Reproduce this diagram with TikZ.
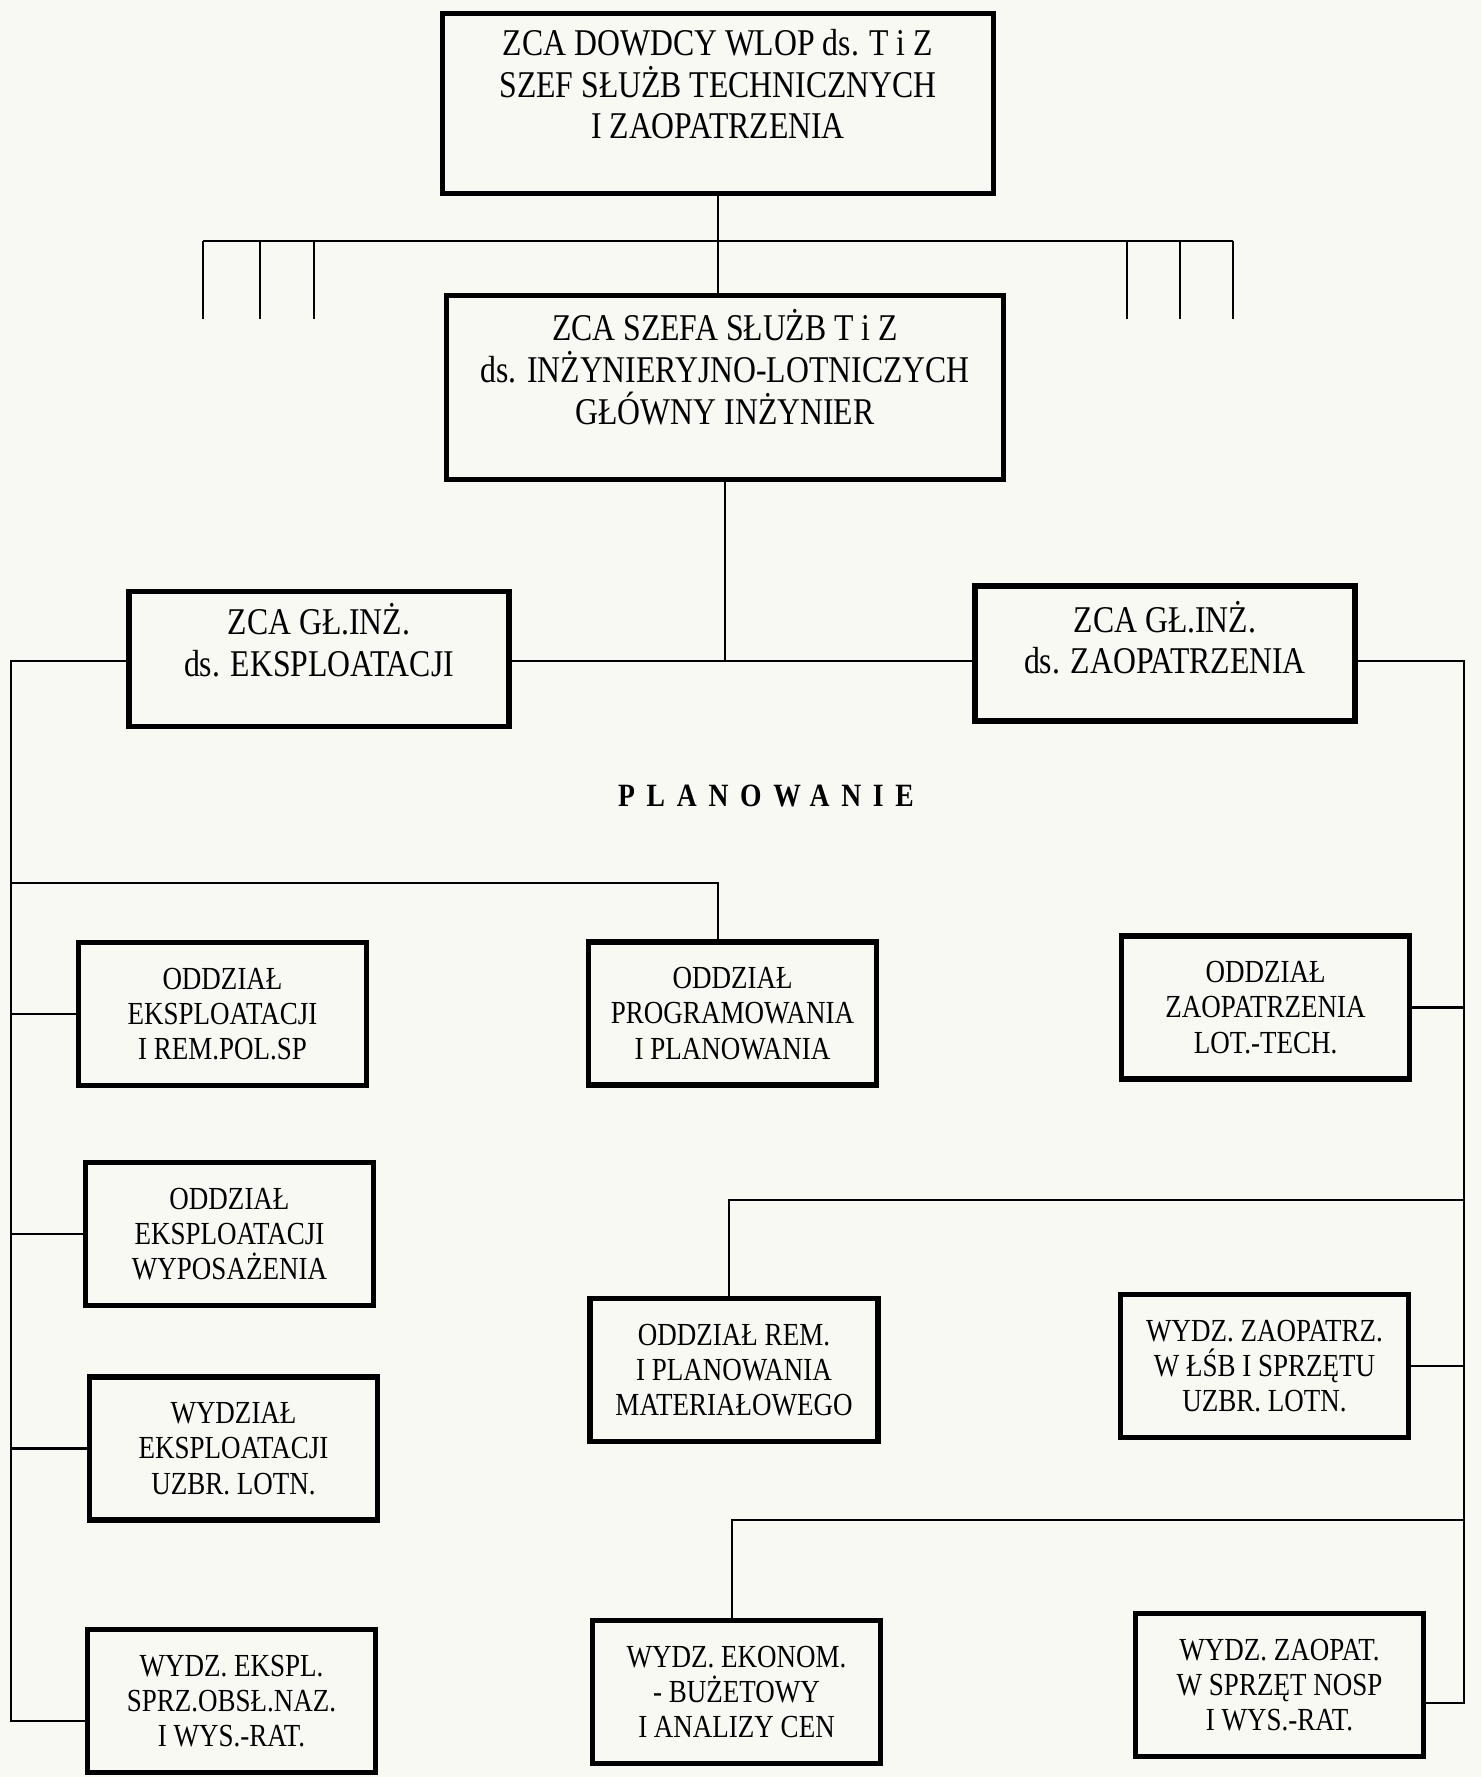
\documentclass[tikz,border=0pt]{standalone}
\usepackage{fontspec}
\setmainfont{Liberation Serif}[FakeStretch=0.84]
\newfontfamily\spacedfont{Liberation Serif}[FakeStretch=0.85, LetterSpace=36]
\usetikzlibrary{positioning, calc}
\definecolor{paper}{RGB}{249,249,244}
% lines of a box, with some room left below them
\newcommand{\boxlines}[2][0pt]{\vbox{\let\\\cr\halign{\hfil##\hfil\cr#2\cr}\vskip#1}}

\begin{document}
\begin{tikzpicture}[x=0.02cm, y=-0.02cm,
    box/.style={draw, line width=3pt, align=center},
    headbox/.style={box, minimum width=11.02cm, minimum height=3.6cm, font=\fontsize{21.5}{23.8}\selectfont},
    deputybox/.style={box, minimum width=7.6cm, minimum height=2.7cm, font=\fontsize{21.5}{23.8}\selectfont},
    unitbox/.style={box, minimum width=5.76cm, minimum height=2.86cm, font=\fontsize{18.3}{20}\selectfont},
    link/.style={line width=1.4pt}]
    \path[use as bounding box, fill=paper] (0,0) rectangle (1481,1777);

    \node[headbox] (ZCA) at (718,103.5) {\boxlines[22pt]{ZCA DOWDCY WLOP ds. T i Z\\SZEF SŁUŻB TECHNICZNYCH\\I ZAOPATRZENIA}};
    \node[headbox, minimum width=11.14cm, minimum height=3.68cm] (GI) at (725,387.5) {\boxlines[23pt]{ZCA SZEFA SŁUŻB T i Z\\ds. INŻYNIERYJNO-LOTNICZYCH\\GŁÓWNY INŻYNIER}};
    \node[deputybox] (GIE) at (319,659) {\boxlines[21pt]{ZCA GŁ.INŻ.\\ds. EKSPLOATACJI}};
    \node[deputybox] (GIZ) at (1165,653.5) {\boxlines[18pt]{ZCA GŁ.INŻ.\\ds. ZAOPATRZENIA}};
    \node[font=\spacedfont\bfseries\fontsize{18.5}{20}\selectfont] (PLAN) at (766,796) {PLANOWANIE};

    % left column
    \node[unitbox] (OEP) at (222.5,1014) {ODDZIAŁ\\EKSPLOATACJI\\I REM.POL.SP};
    \node[unitbox] (OEW) at (229.5,1234) {ODDZIAŁ\\EKSPLOATACJI\\WYPOSAŻENIA};
    \node[unitbox] (WEU) at (233.5,1448.5) {WYDZIAŁ\\EKSPLOATACJI\\UZBR. LOTN.};
    \node[unitbox] (WES) at (231.5,1701) {WYDZ. EKSPL.\\SPRZ.OBSŁ.NAZ.\\I WYS.-RAT.};
    % middle column
    \node[unitbox] (OPP) at (732.5,1013.5) {ODDZIAŁ\\PROGRAMOWANIA\\I PLANOWANIA};
    \node[unitbox] (ORP) at (734,1370) {ODDZIAŁ REM.\\I PLANOWANIA\\MATERIAŁOWEGO};
    \node[unitbox] (WEB) at (736.5,1692) {WYDZ. EKONOM.\\- BUŻETOWY\\I ANALIZY CEN};
    % right column
    \node[unitbox] (OZL) at (1265.5,1007.5) {ODDZIAŁ\\ZAOPATRZENIA\\LOT.-TECH.};
    \node[unitbox] (WZU) at (1264.5,1366) {WYDZ. ZAOPATRZ.\\W ŁŚB I SPRZĘTU\\UZBR. LOTN.};
    \node[unitbox] (WZN) at (1279.5,1685) {WYDZ. ZAOPAT.\\W SPRZĘT NOSP\\I WYS.-RAT.};

    \coordinate (barL) at (203,241);
    \coordinate (barR) at (1233,241);
    \coordinate (hub) at (722,661);
    \coordinate (spineL) at (11,0);
    \coordinate (spineR) at (1464,0);
    \coordinate (planbar) at (718,883);
    \coordinate (remfeed) at (729,1200);
    \coordinate (ekofeed) at (732,1520);
    \coordinate (wesin) at ([yshift=-0.4cm]WES.west);
    \coordinate (wznin) at ([yshift=-0.36cm]WZN.east);

    \draw[link] (ZCA.south) -- (ZCA.south |- GI.north);
    \draw[link] (barL) -- (barR);
    \foreach \x in {203,260,314,1127,1180,1233}
        \draw[link] (\x,241) -- ++(0,78);

    \draw[link] (GI.south) -- (GI.south |- hub);
    \draw[link] (GIE.east |- hub) -- (GIZ.west |- hub);

    % left spine
    \draw[link] (GIE.west |- hub) -| (spineL |- wesin) -- (wesin);
    \foreach \n in {OEP, OEW, WEU}
        \draw[link] (\n.west) -- (spineL |- \n.west);
    \draw[link] (spineL |- planbar) -- (planbar) -- (planbar |- OPP.north);

    % right spine
    \draw[link] (GIZ.east |- hub) -| (spineR |- wznin) -- (wznin);
    \foreach \n in {OZL, WZU}
        \draw[link] (\n.east) -- (spineR |- \n.east);
    \draw[link] (spineR |- remfeed) -- (remfeed) -- (remfeed |- ORP.north);
    \draw[link] (spineR |- ekofeed) -- (ekofeed) -- (ekofeed |- WEB.north);
\end{tikzpicture}
\end{document}
